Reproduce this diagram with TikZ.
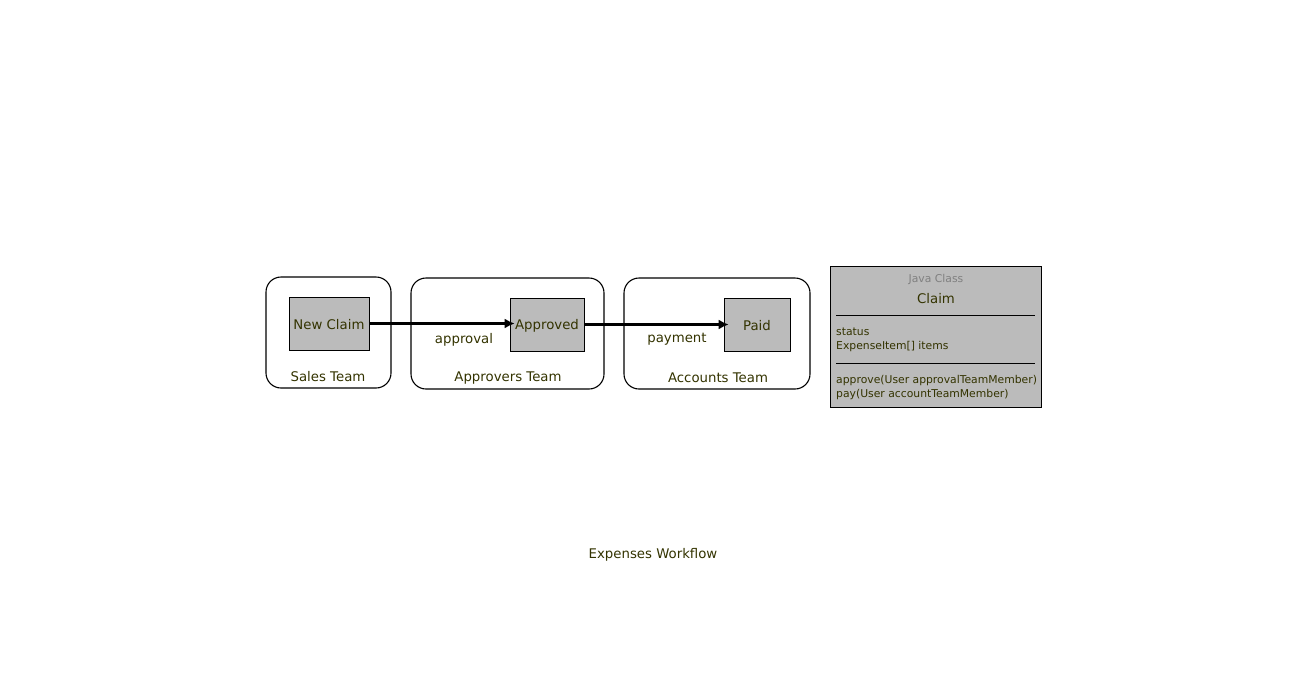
\documentclass[tikz,border=0pt]{standalone}
\usepackage{fontspec}
\setmainfont{DejaVu Sans}
\usetikzlibrary{arrows.meta}
\definecolor{txt}{RGB}{51,51,0}
\definecolor{boxgrey}{RGB}{187,187,187}
\definecolor{faint}{RGB}{128,128,128}

\begin{document}
\begin{tikzpicture}[x=1pt,y=-1pt,
    team/.style={draw, line width=1.1pt, rounded corners=15pt, inner sep=0pt},
    state/.style={draw, line width=0.6pt, fill=boxgrey, inner sep=0pt,
      text=txt, font=\fontsize{13.3}{15}\selectfont},
    lbl/.style={inner sep=0pt, text=txt, font=\fontsize{13.3}{15}\selectfont},
    small/.style={inner sep=0pt, text=txt, anchor=west, font=\fontsize{10.8}{13}\selectfont},
    flow/.style={line width=2.5pt, shorten >=-5pt, -{Latex[length=10pt,width=10pt]}}]
    \useasboundingbox (0,0) rectangle (1307,686);
    % swimlanes
    \node[team, minimum width=125, minimum height=111] (sales) at (328.5,332.5) {};
    \node[team, minimum width=193, minimum height=111] (approvers) at (507.5,333.5) {};
    \node[team, minimum width=186, minimum height=111] (accounts) at (717,333.5) {};
    \node[lbl] (salesname) at (328,377) {Sales Team};
    \node[lbl] (approversname) at (508,378) {Approvers Team};
    \node[lbl] (accountsname) at (718,378) {Accounts Team};
    % states
    \node[state, minimum width=80, minimum height=53] (claim) at (329,323.5) {};
    \node[lbl, yshift=-1pt] (claimname) at (claim) {New Claim};
    \node[state, minimum width=74, minimum height=53] (approved) at (547,324.5) {};
    \node[lbl, yshift=-1pt] (approvedname) at (approved) {Approved};
    \node[state, minimum width=66, minimum height=53] (paid) at (757,324.5) {};
    \node[lbl, yshift=-1pt] (paidname) at (paid) {Paid};
    % transitions
    \draw[flow] (claim.east) -- (approved.west |- claim.east);
    \draw[flow] (approved.east) -- (paid.west);
    \node[lbl] (approval) at (464,339.5) {approval};
    \node[lbl] (payment) at (677,339.5) {payment};
    % class
    \node[draw, line width=0.6pt, fill=boxgrey, minimum width=211, minimum height=141,
      inner sep=0pt] (cls) at (935.5,336.5) {};
    \node[inner sep=0pt, text=faint, font=\fontsize{10.8}{13}\selectfont] (kind) at (936,279.5) {Java Class};
    \node[lbl] (clsname) at (936,298.5) {Claim};
    \coordinate (sepa) at (836,315);
    \coordinate (sepb) at (836,363);
    \draw[line width=0.8pt] (sepa) -- ++(199,0);
    \draw[line width=0.8pt] (sepb) -- ++(199,0);
    \node[small] (status) at (836,332) {status};
    \node[small] (items) at (836,346.5) {ExpenseItem[] items};
    \node[small] (approve) at (836,380.5) {approve(User approvalTeamMember)};
    \node[small] (pay) at (836,394.5) {pay(User accountTeamMember)};
    % title
    \node[lbl] (title) at (653,555) {Expenses Workflow};
\end{tikzpicture}
\end{document}
